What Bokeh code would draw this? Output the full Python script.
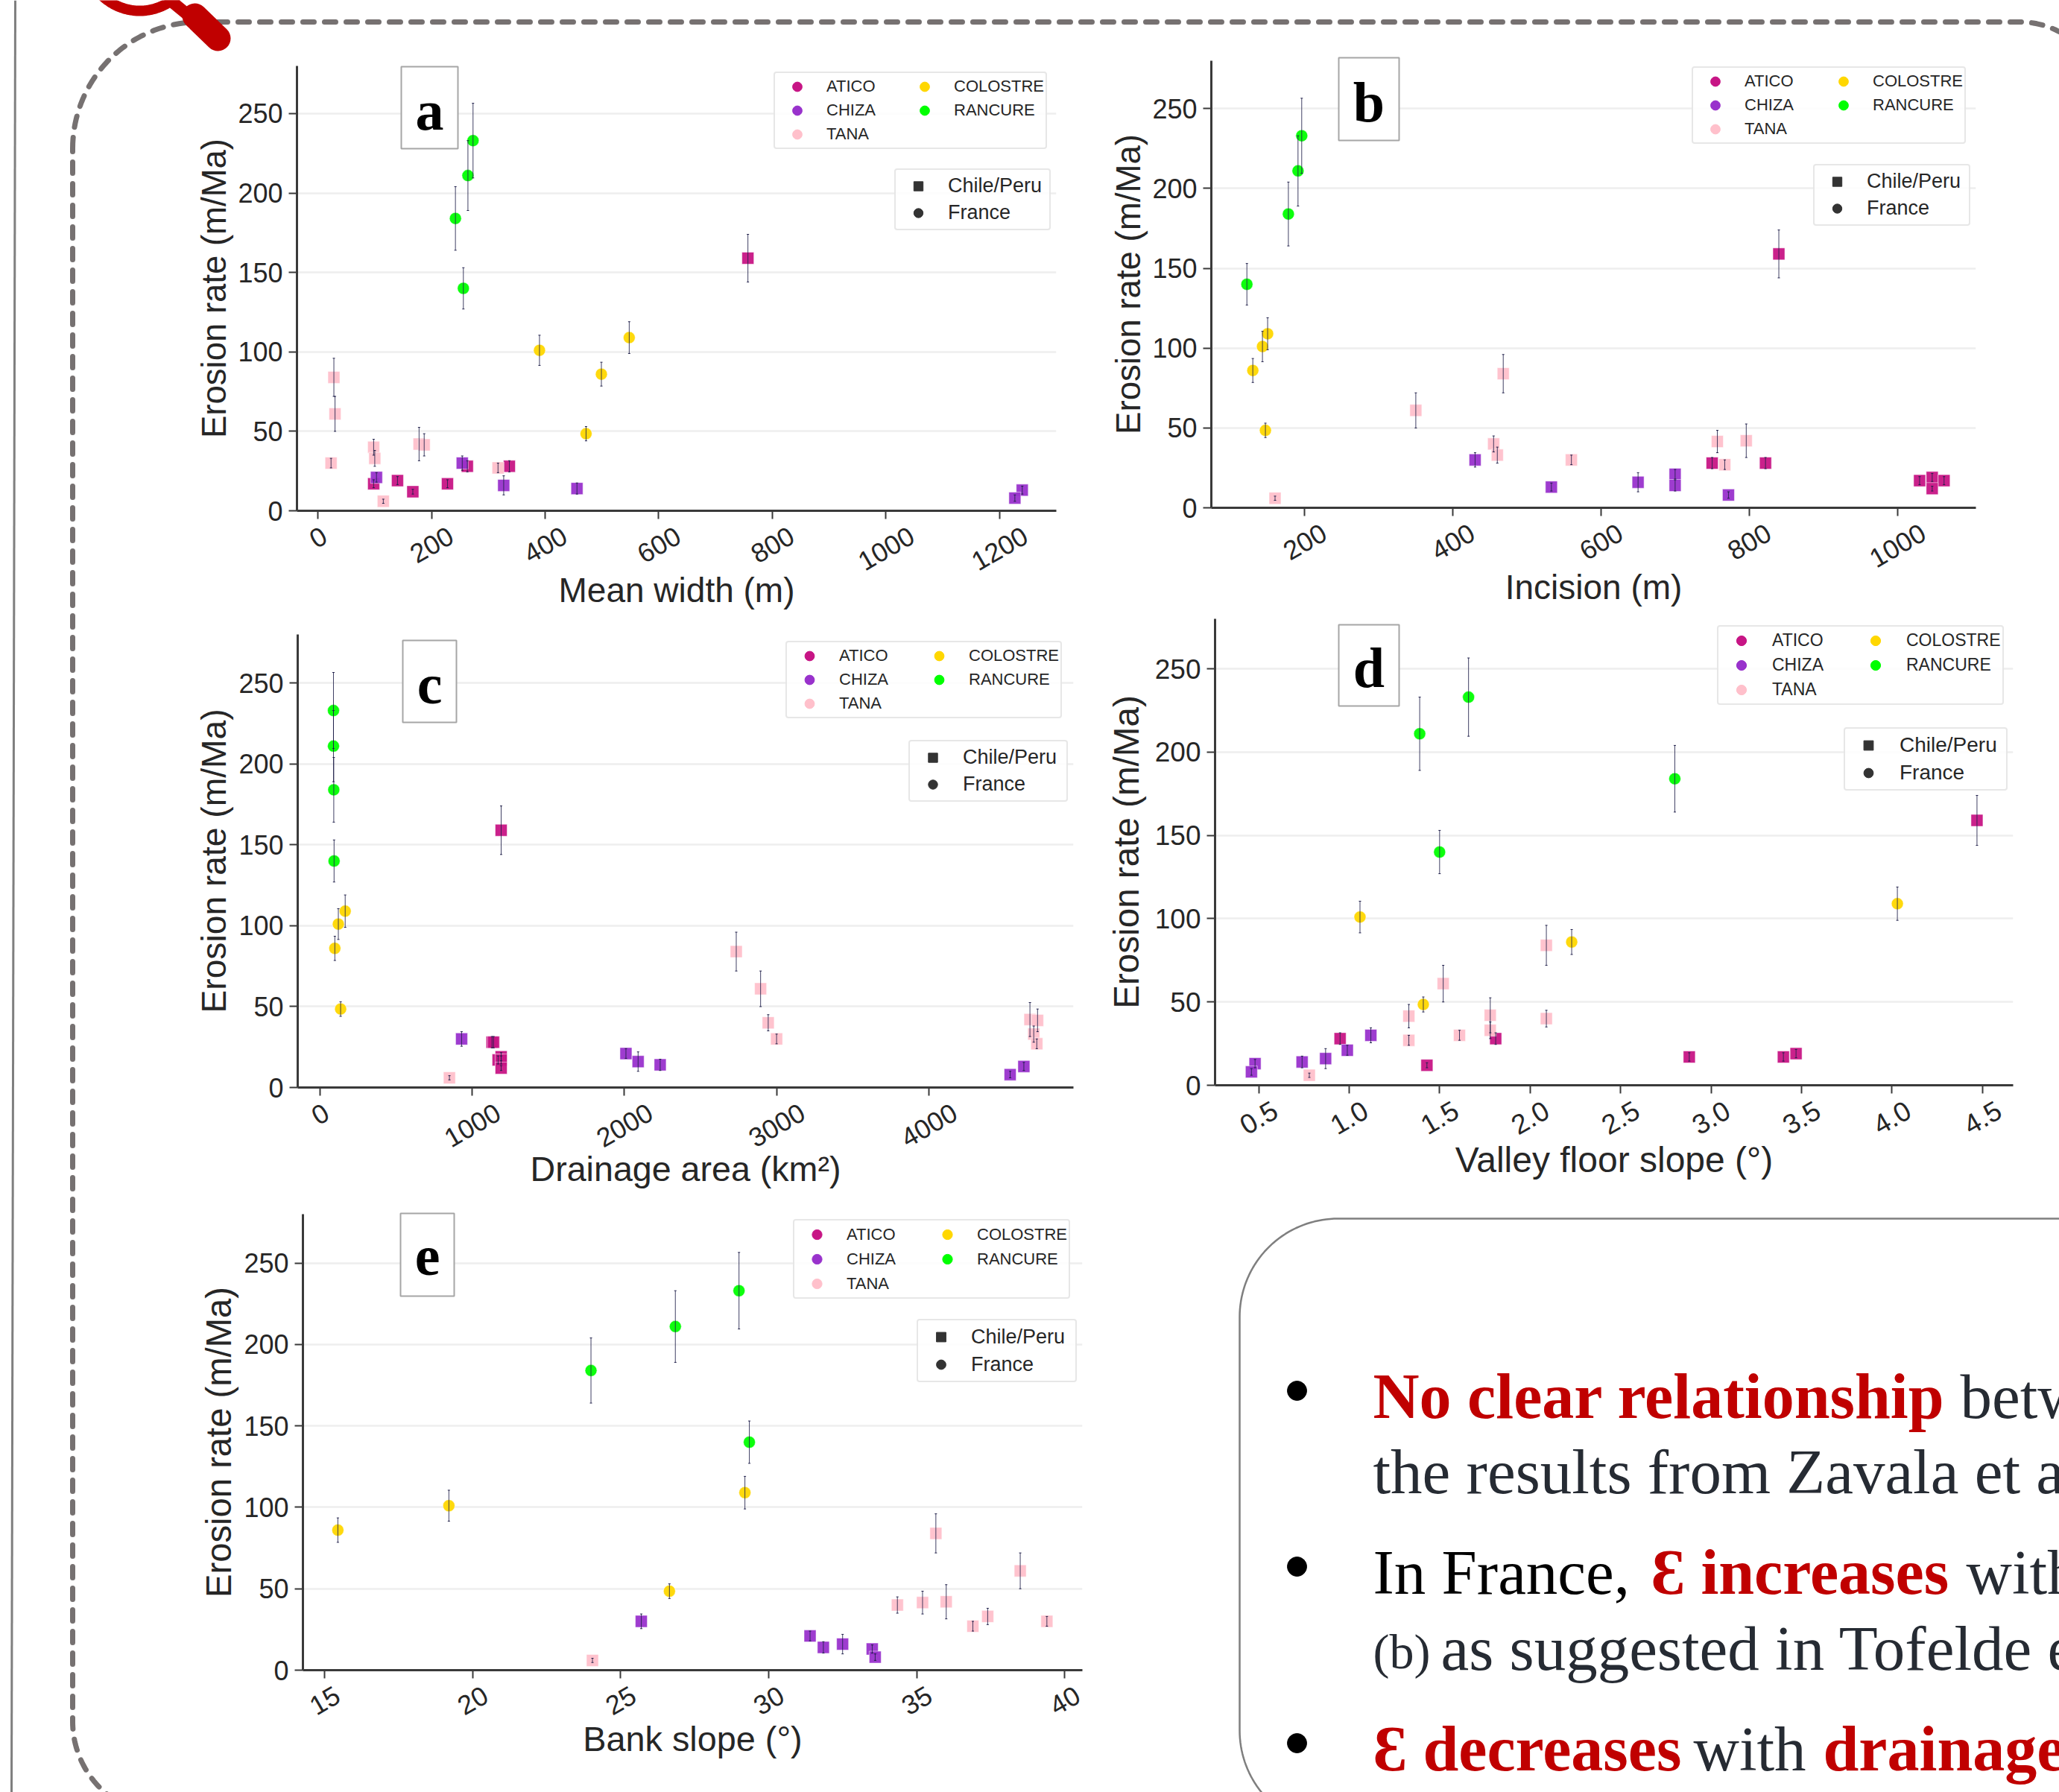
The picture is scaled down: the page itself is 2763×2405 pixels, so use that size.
import math
import numpy as np
from bokeh.core.properties import value
from bokeh.embed import file_html
from bokeh.models import (ColumnDataSource, FixedTicker, Legend, LegendItem, Range1d,
                          TeeHead, Whisker)
from bokeh.plotting import figure
from bokeh.resources import INLINE

# ---------------- data ----------------
ATICO_Y = [159, 28, 28, 19, 17, 17, 12]
ATICO_E = [15, 3.5, 3.5, 2.5, 2.5, 2.5, 1.5]
CHIZA_Y = [30, 21, 16, 14, 13, 8]
CHIZA_E = [4.5, 3, 6, 3.5, 2.5, 2]
TANA_Y = [84, 61, 42, 41.5, 40, 33, 30, 27, 6]
TANA_E = [12, 11, 10.5, 7, 5, 5, 3, 3, 1.3]
COLOSTRE_Y = [109, 101, 86, 48.5]
COLOSTRE_E = [10, 9.5, 7.5, 4.5]
RANCURE_Y = [233, 211, 184, 140]
RANCURE_E = [23.5, 22, 20, 13]

ATICO_A = [757, 263, 337, 140, 98, 228, 167]
CHIZA_A = [254, 103, 327, 456, 1240, 1227]
TANA_A = [28, 30, 178, 187, 98, 100, 23, 317, 115]
COLOSTRE_A = [548, 390, 499, 472]
RANCURE_A = [273, 264, 242, 256]

ATICO_B = [840, 750, 822, 1047, 1030, 1063, 1047]
CHIZA_B = [430, 700, 650, 700, 533, 772]
TANA_B = [468, 350, 796, 757, 455, 460, 560, 767, 160]
COLOSTRE_B = [150, 143, 130, 147]
RANCURE_B = [196, 191, 178, 122]

ATICO_C = [1190, 1130, 1140, 1190, 1170, 1190, 1190]
CHIZA_C = [930, 2010, 2090, 2235, 4625, 4535]
TANA_C = [2735, 2895, 4665, 4715, 2945, 4690, 3000, 4710, 850]
COLOSTRE_C = [165, 120, 97, 135]
RANCURE_C = [88, 88, 90, 92]

ATICO_D = [4.47, 0.95, 1.81, 3.47, 2.88, 3.40, 1.43]
CHIZA_D = [1.12, 0.99, 0.87, 0.74, 0.48, 0.46]
TANA_D = [2.09, 1.52, 1.78, 1.33, 2.09, 1.78, 1.61, 1.33, 0.78]
COLOSTRE_D = [4.03, 1.06, 2.23, 1.41]
RANCURE_D = [1.66, 1.39, 2.80, 1.50]

ATICO_E_X = []
CHIZA_E_X = [25.7, 31.4, 32.5, 31.85, 33.5, 33.6]
TANA_E_X = [35.65, 38.5, 36, 35.2, 34.35, 37.4, 39.4, 36.9, 24.05]
COLOSTRE_E_X = [29.2, 19.2, 15.45, 26.65]
RANCURE_E_X = [29, 26.85, 24, 29.35]

Y_TICKS = [0, 50, 100, 150, 200, 250]
TICKS_A = [0, 200, 400, 600, 800, 1000, 1200]
TICKS_B = [200, 400, 600, 800, 1000]
TICKS_C = [0, 1000, 2000, 3000, 4000]
TICKS_D = [0.5, 1.0, 1.5, 2.0, 2.5, 3.0, 3.5, 4.0, 4.5]
TICKS_E = [15, 20, 25, 30, 35, 40]

NAMES = ["ATICO", "CHIZA", "TANA", "COLOSTRE", "RANCURE"]
COLORS = ["#C71585", "#9932CC", "#FFC0CB", "#FFD700", "#00FF00"]
MARKS = ["square", "square", "square", "circle", "circle"]
YS = [ATICO_Y, CHIZA_Y, TANA_Y, COLOSTRE_Y, RANCURE_Y]
ES = [ATICO_E, CHIZA_E, TANA_E, COLOSTRE_E, RANCURE_E]

SANS = "Liberation Sans"
SERIF = "Liberation Serif"
INK = "#262626"
RED = "#C00000"
W, H = 2763, 2405
x_tick_texts = []
LEGEND_EXTRA = {"border_radius": 4} if "border_radius" in Legend.properties() else {}


def place(fig, left, top):
    fig.styles = {"position": "absolute", "left": f"{left}px", "top": f"{top}px"}


def panel(xs, ticks, xlabel, frame, xlim, fonts):
    L, T, R, B = frame
    fw, fh = R - L, B - T
    ml, mr, mt, mb = 190, 14, 8, 190
    p = figure(width=fw + ml + mr, height=fh + mt + mb, toolbar_location=None, output_backend="svg",
               x_range=Range1d(*xlim), y_range=Range1d(0, 280),
               min_border_left=ml, min_border_right=mr, min_border_top=mt, min_border_bottom=mb,
               background_fill_color=None, border_fill_color=None, outline_line_color=None)
    place(p, L - ml, T - mt)
    tick_pt, xlab_pt, ylab_pt, leg1_pt, leg2_pt, xstand, ystand = fonts
    for ax in (p.xaxis[0], p.yaxis[0]):
        ax.axis_line_color = "#3a3a3a"
        ax.axis_line_width = 3
        ax.major_tick_line_color = "#3a3a3a"
        ax.major_tick_line_width = 2
        ax.major_tick_in = 0
        ax.major_tick_out = 11
        ax.minor_tick_line_color = None
        ax.major_label_text_font = SANS
        ax.major_label_text_font_size = f"{tick_pt}px"
        ax.major_label_text_color = INK
        ax.axis_label_text_font = SANS
        ax.axis_label_text_font_style = "normal"
        ax.axis_label_text_color = INK
    p.xaxis[0].ticker = FixedTicker(ticks=ticks)
    p.yaxis[0].ticker = FixedTicker(ticks=Y_TICKS)
    p.xaxis[0].major_label_overrides = {t: "" for t in ticks}
    p.xaxis[0].axis_label = xlabel
    p.yaxis[0].axis_label = "Erosion rate (m/Ma)"
    p.xaxis[0].axis_label_text_font_size = f"{xlab_pt}px"
    p.yaxis[0].axis_label_text_font_size = f"{ylab_pt}px"
    p.xaxis[0].axis_label_standoff = xstand
    p.yaxis[0].axis_label_standoff = ystand
    p.xaxis[0].major_label_standoff = 0
    p.yaxis[0].major_label_standoff = 8
    p.xgrid.visible = False
    p.ygrid[0].ticker = FixedTicker(ticks=Y_TICKS)
    p.ygrid[0].grid_line_color = "#eeeeee"
    p.ygrid[0].grid_line_width = 2.5

    # x tick labels: rotated and centred under their ticks, drawn on the top canvas
    for tick in ticks:
        txt = str(tick)
        w = sum(0.278 if ch == "." else 0.556 for ch in txt) * tick_pt
        x_tick_texts.append((txt, L + (tick - xlim[0]) / (xlim[1] - xlim[0]) * fw,
                             B + 19 + (w * 0.5 + 0.866 * 0.72 * tick_pt) / 2, tick_pt))

    items = []
    nan = [float("nan")]
    for name, color, mark, x, y, e in zip(NAMES, COLORS, MARKS, xs, YS, ES):
        if x:
            src = ColumnDataSource(dict(x=x, y=y,
                                        lo=[a - b for a, b in zip(y, e)],
                                        up=[a + b for a, b in zip(y, e)]))
            p.scatter("x", "y", source=src, marker=mark, size=16, fill_color=color, fill_alpha=0.95,
                      line_color="white", line_alpha=0.5, line_width=1)
            head = dict(size=3, line_color="#20204a", line_width=1)
            p.add_layout(Whisker(source=src, base="x", lower="lo", upper="up", dimension="height",
                                 line_color="#20204a", line_width=1, line_alpha=0.85, level="annotation",
                                 lower_head=TeeHead(**head), upper_head=TeeHead(**head)))
        key = p.scatter(nan, nan, marker="circle", size=12, fill_color=color, line_color=color)
        items.append(LegendItem(label=value(name), renderers=[key]))

    s = fh / 600
    leg = Legend(items=items, ncols=2, location=(fw - 11 - round(370 * s), fh - 12 - round(100 * s)),
                 padding=round(2 * s), spacing=0, glyph_width=round(55 * s), glyph_height=round(32 * s),
                 label_standoff=round(12 * s), label_width=round(105 * s), label_height=round(32 * s),
                 label_text_font=SANS, label_text_font_size=f"{leg1_pt}px", label_text_color=INK,
                 border_line_color="#cfcfcf", border_line_width=2, background_fill_alpha=0.85,
                 label_text_baseline="middle", **LEGEND_EXTRA)
    p.add_layout(leg)

    r_sq = p.scatter(nan, nan, marker="square", size=12, fill_color="#333333", line_color="#333333")
    r_ci = p.scatter(nan, nan, marker="circle", size=12, fill_color="#333333", line_color="#333333")
    leg2 = Legend(items=[LegendItem(label=value("Chile/Peru"), renderers=[r_sq]),
                         LegendItem(label=value("France"), renderers=[r_ci])],
                  location=(fw - 11 - round(207 * s), fh - round(219 * s) - 3),
                  padding=round(6 * s), spacing=round(5 * s), glyph_width=round(48 * s), glyph_height=round(31 * s),
                  label_standoff=round(16 * s), label_width=round(131 * s), label_height=round(31 * s),
                  label_text_font=SANS, label_text_font_size=f"{leg2_pt}px", label_text_color=INK,
                  border_line_color="#cfcfcf", border_line_width=2, background_fill_alpha=0.85,
                  label_text_baseline="middle", **LEGEND_EXTRA)
    p.add_layout(leg2)
    return p


def canvas():
    c = figure(width=W, height=H, toolbar_location=None, output_backend="svg",
               x_axis_type=None, y_axis_type=None,
               x_range=Range1d(0, W), y_range=Range1d(H, 0),
               min_border=0, background_fill_color=None, border_fill_color=None, outline_line_color=None)
    c.grid.visible = False
    place(c, 0, 0)
    return c


def round_path(x0, y0, x1, y1, r_tl, r_tr=None, r_br=None, r_bl=None):
    r_tr = r_tl if r_tr is None else r_tr
    r_br = r_tl if r_br is None else r_br
    r_bl = r_tl if r_bl is None else r_bl
    t = np.linspace(0, math.pi / 2, 40)
    px = np.concatenate([x0 + r_tl - r_tl * np.cos(t), x1 - r_tr + r_tr * np.sin(t),
                         x1 - r_br + r_br * np.cos(t), x0 + r_bl - r_bl * np.sin(t), [x0]])
    py = np.concatenate([y0 + r_tl - r_tl * np.sin(t), y0 + r_tr - r_tr * np.cos(t),
                         y1 - r_br + r_br * np.sin(t), y1 - r_bl + r_bl * np.cos(t), [y0 + r_tl]])
    return px, py


bg = canvas()
# frame lines
bg.line([20, 15], [0, H], line_color="#7f7f7f", line_width=3)
# dashed enclosure
dx, dy = round_path(97, 29, 2824, 2436, 170, 114, 126, 126)
bg.line(dx, dy, line_color="#767171", line_width=7, line_dash="15 14", line_cap="round")
# magnifier
t = np.linspace(math.radians(30), math.radians(150), 60)
bg.line(187 + 73 * np.cos(t), -59 + 73 * np.sin(t), line_color=RED, line_width=14)
bg.line([228, 262], [0, 28], line_color=RED, line_width=16, line_cap="round")
bg.line([261, 292], [21, 51], line_color=RED, line_width=34, line_cap="round")
# text panel
px, py = round_path(1663, 1635, 3100, 2454, 132)
bg.patch(px, py, fill_color="white", line_color="#7f7f7f", line_width=2.5)
bg.scatter([1740, 1740, 1740], [1866, 2102, 2339], size=26, marker="circle", fill_color="black", line_color="black")

SEGMENTS = [
    ("No clear relationship", 1842, 1873, RED, "bold", 86),
    ("between", 2630, 1873, "#262B33", "normal", 85),
    ("the results from Zavala et al.", 1842, 1974.5, "#262B33", "normal", 85),
    ("In France,", 1842, 2109, "black", "normal", 85),
    ("\u0190 increases", 2215, 2109, RED, "bold", 86),
    ("with", 2638, 2109, "#262B33", "normal", 85),
    ("(b)", 1842, 2216, "#262B33", "normal", 66),
    ("as suggested in Tofelde et al.", 1933, 2211.6, "#262B33", "normal", 85),
    ("\u0190 decreases", 1842, 2346, RED, "bold", 86),
    ("with", 2272, 2346, "#262B33", "normal", 85),
    ("drainage", 2446, 2346, RED, "bold", 86),
]
for txt, x, y, col, style, size in SEGMENTS:
    bg.text([x], [y], text=[txt], text_color=col, text_font=value(SERIF), text_font_style=style,
            text_font_size=f"{size}px", text_baseline="alphabetic", text_align="left")

pa = panel([ATICO_A, CHIZA_A, TANA_A, COLOSTRE_A, RANCURE_A], TICKS_A, "Mean width (m)",
           (398, 88, 1417, 685), (-37, 1300), (36, 46, 45.5, 22, 27, 69, 3))
pb = panel([ATICO_B, CHIZA_B, TANA_B, COLOSTRE_B, RANCURE_B], TICKS_B, "Incision (m)",
           (1625, 81, 2651, 681), (74, 1106), (36, 46, 45.6, 22, 27, 69, 3))
pc = panel([ATICO_C, CHIZA_C, TANA_C, COLOSTRE_C, RANCURE_C], TICKS_C, "Drainage area (km\u00b2)",
           (399, 851, 1440, 1459), (-147, 4951), (36, 46.6, 46.2, 22, 27, 72, 4))
pd = panel([ATICO_D, CHIZA_D, TANA_D, COLOSTRE_D, RANCURE_D], TICKS_D, "Valley floor slope (\u00b0)",
           (1630, 830, 2701, 1456), (0.259, 4.67), (37, 48, 47.6, 23, 28, 62, 9))
pe = panel([ATICO_E_X, CHIZA_E_X, TANA_E_X, COLOSTRE_E_X, RANCURE_E_X], TICKS_E, "Bank slope (\u00b0)",
           (406, 1629, 1452, 2241), (14.27, 40.6), (36, 46.8, 47.2, 22, 27, 55, 4))

fg = canvas()
TAGS = [("a", 538, 89, 614, 199, 147), ("b", 1796, 77, 1877, 188, 136), ("c", 540, 859, 612, 969, 917),
        ("d", 1796, 838, 1877, 947, 895), ("e", 537, 1628, 609, 1739, 1685)]
for tag, x0, y0, x1, y1, base in TAGS:
    fg.quad(left=[x0], right=[x1], top=[y0], bottom=[y1], fill_color="white", line_color="#a6a6a6", line_width=2)
    fg.text([(x0 + x1) / 2], [base], text=[tag], text_color="black", text_font=value(SERIF),
            text_font_style="bold", text_font_size="76px", text_align="center", text_baseline="alphabetic")
for txt, x, y, size in x_tick_texts:
    fg.text([x], [y], text=[txt], angle=30, angle_units="deg", text_color=INK, text_font=value(SANS),
            text_font_size=f"{size}px", text_align="center", text_baseline="middle")

open("out.html", "w").write(file_html([bg, pa, pb, pc, pd, pe, fg], INLINE))
